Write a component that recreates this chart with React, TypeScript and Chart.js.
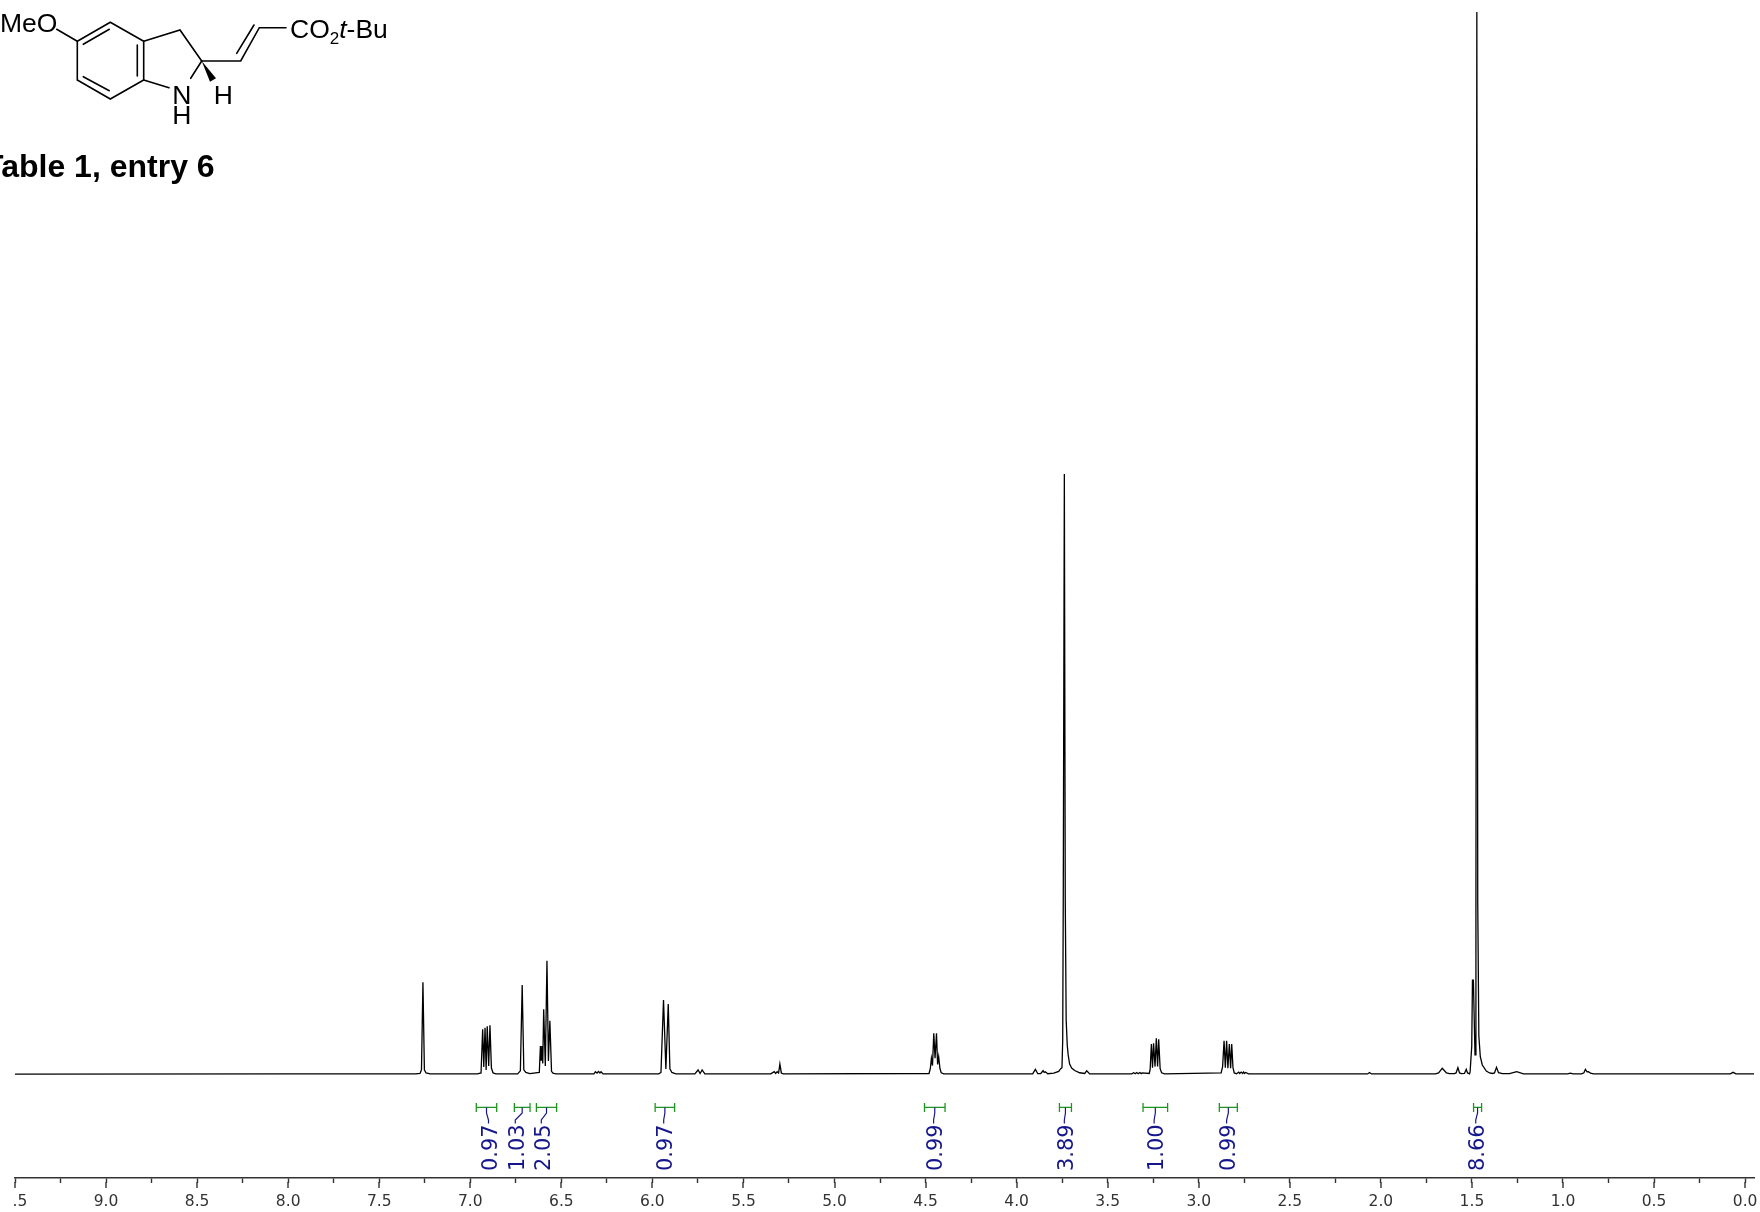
import React, { useEffect, useRef } from "react";
import { Chart, registerables } from "chart.js";

Chart.register(...registerables);

type P = [number, number];

// Spectrum as [ppm, intensity (% of the tallest peak)]
const baselineStart: P[] = [[9.5, 0], [8.0, 0.01], [7.6, 0.01], [7.3, 0.01]];
const chloroform: P[] = [[7.276, 0.05], [7.268, 0.4], [7.26, 8.63], [7.252, 0.4], [7.243, 0.1], [7.22, 0.02], [6.96, 0.02]];
const dd690: P[] = [[6.941, 0.1], [6.932, 4.21], [6.926, 0.66], [6.919, 4.36], [6.913, 0.38], [6.907, 4.49], [6.899, 0.75], [6.892, 4.59], [6.884, 0.56], [6.875, 0.1], [6.859, 0.02]];
const s672: P[] = [[6.74, 0.02], [6.725, 0.3], [6.715, 8.38], [6.706, 0.4], [6.695, 0.15], [6.673, 0.03]];
const m660: P[] = [[6.621, 0.15], [6.615, 2.64], [6.611, 1.3], [6.607, 2.64], [6.602, 1.0], [6.597, 6.09], [6.588, 0.75], [6.579, 10.67], [6.571, 1.22], [6.563, 5.02], [6.554, 0.25], [6.546, 0.08], [6.53, 0.02]];
const small630: P[] = [[6.321, 0.01], [6.313, 0.22], [6.304, 0.08], [6.296, 0.25], [6.288, 0.1], [6.282, 0.22], [6.271, 0.01]];
const d592: P[] = [[5.965, 0.02], [5.953, 0.15], [5.939, 6.97], [5.926, 0.47], [5.913, 6.59], [5.904, 0.5], [5.893, 0.15], [5.871, 0.02]];
const small573: P[] = [[5.767, 0.01], [5.749, 0.38], [5.738, 0.05], [5.727, 0.38], [5.712, 0.01]];
const small531: P[] = [[5.35, 0.01], [5.331, 0.22], [5.323, 0.05], [5.315, 0.22], [5.307, 0.1], [5.3, 0.94], [5.292, 0.1], [5.281, 0.01]];
const m444: P[] = [[4.481, 0.05], [4.474, 0.5], [4.468, 1.48], [4.462, 0.8], [4.455, 3.83], [4.448, 1.5], [4.44, 3.83], [4.434, 0.9], [4.428, 1.63], [4.421, 0.5], [4.414, 0.12], [4.4, 0.02]];
const small388: P[] = [[3.912, 0.01], [3.897, 0.44], [3.884, 0.03], [3.868, 0.03], [3.855, 0.31], [3.849, 0.15], [3.843, 0.22], [3.829, 0.03], [3.796, 0.08], [3.769, 0.25]];
const methoxy: P[] = [[3.758, 0.5], [3.751, 0.6], [3.747, 3.2], [3.744, 16.4], [3.738, 56.5], [3.733, 16.4], [3.728, 5.1], [3.722, 2.7], [3.717, 1.8], [3.709, 0.94], [3.698, 0.56], [3.681, 0.33], [3.654, 0.12], [3.626, 0.05], [3.615, 0.31], [3.599, 0.01]];
const small333: P[] = [[3.368, 0.01], [3.357, 0.12], [3.349, 0.03], [3.341, 0.14], [3.333, 0.03], [3.324, 0.14], [3.316, 0.04], [3.311, 0.1]];
const m324: P[] = [[3.272, 0.05], [3.267, 0.4], [3.26, 2.82], [3.254, 0.6], [3.248, 2.89], [3.24, 0.7], [3.233, 3.36], [3.226, 0.7], [3.22, 3.27], [3.212, 0.5], [3.204, 0.12], [3.187, 0.02]];
const m283: P[] = [[2.877, 0.1], [2.869, 0.7], [2.861, 3.14], [2.854, 0.6], [2.847, 3.14], [2.84, 0.55], [2.832, 2.82], [2.825, 0.55], [2.819, 2.82], [2.812, 0.6], [2.805, 0.1], [2.792, 0.02]];
const small276: P[] = [[2.781, 0.18], [2.775, 0.05], [2.767, 0.18], [2.759, 0.05], [2.754, 0.2], [2.748, 0.05], [2.743, 0.15], [2.726, 0.01]];
const small205: P[] = [[2.073, 0.01], [2.062, 0.15], [2.051, 0.01]];
const water: P[] = [[1.7, 0.02], [1.683, 0.1], [1.672, 0.35], [1.663, 0.54], [1.653, 0.35], [1.64, 0.1], [1.623, 0.03], [1.596, 0.03], [1.587, 0.1], [1.577, 0.6], [1.568, 0.1], [1.557, 0.03], [1.541, 0.05], [1.531, 0.44], [1.524, 0.1], [1.513, 0.02]];
const tertButyl: P[] = [[1.51, 0.2], [1.501, 2.6], [1.497, 8.85], [1.492, 8.85], [1.483, 1.8], [1.478, 16], [1.473, 100], [1.468, 16], [1.462, 3.6], [1.454, 1.63], [1.443, 0.85], [1.421, 0.28], [1.403, 0.1], [1.387, 0.05]];
const small137: P[] = [[1.376, 0.1], [1.365, 0.63], [1.354, 0.12], [1.332, 0.03], [1.294, 0.03], [1.254, 0.22], [1.217, 0.02]];
const small088: P[] = [[0.975, 0.01], [0.959, 0.08], [0.945, 0.01], [0.898, 0.02], [0.885, 0.12], [0.877, 0.44], [0.868, 0.2], [0.86, 0.22], [0.849, 0.08], [0.833, 0.01]];
const baselineEnd: P[] = [[0.081, 0.02], [0.066, 0.16], [0.05, 0.02], [-0.05, 0.01]];

const spectrum: P[] = [
  ...baselineStart, ...chloroform, ...dd690, ...s672, ...m660, ...small630, ...d592,
  ...small573, ...small531, ...m444, ...small388, ...methoxy, ...small333, ...m324,
  ...m283, ...small276, ...small205, ...water, ...tertButyl, ...small137, ...small088, ...baselineEnd,
];

// Integrals
const integralValues = ["0.97", "1.03", "2.05", "0.97", "0.99", "3.89", "1.00", "0.99", "8.66"];
const integralFrom = [6.967, 6.758, 6.637, 5.985, 4.506, 3.765, 3.306, 2.887, 1.491];
const integralTo = [6.855, 6.672, 6.526, 5.878, 4.393, 3.699, 3.171, 2.788, 1.447];
const integralLabelAt = [6.9, 6.753, 6.61, 5.938, 4.456, 3.738, 3.245, 2.847, 1.479];

// Axis
const tickValues = [9.5, 9.25, 9, 8.75, 8.5, 8.25, 8, 7.75, 7.5, 7.25, 7, 6.75, 6.5, 6.25, 6, 5.75, 5.5, 5.25, 5, 4.75, 4.5, 4.25, 4, 3.75, 3.5, 3.25, 3, 2.75, 2.5, 2.25, 2, 1.75, 1.5, 1.25, 1, 0.75, 0.5, 0.25, 0];
const clippedLabels: Record<string, string> = { "9.5": "\u2007.5" };

const INK = "#333333";
const GREEN = "#1e961e";
const NAVY = "#16168c";
const Y_BRACKET = -3.14;
const Y_KINK_A = -3.67;
const Y_KINK_B = -4.33;
const Y_LABEL = -4.75;

const structurePlugin = {
  id: "structure",
  afterDraw(chart: any) {
    const ctx = chart.ctx;
    const sx = chart.scales.x;
    const sy = chart.scales.y;
    ctx.save();

    // longer ticks at the labelled positions
    ctx.strokeStyle = INK;
    ctx.lineWidth = 1.4;
    for (const t of sx.ticks) {
      if (!t.major) continue;
      const px = Math.round(sx.getPixelForValue(t.value));
      ctx.beginPath();
      ctx.moveTo(px, sx.top + 4);
      ctx.lineTo(px, sx.top + 10);
      ctx.stroke();
    }

    // integral values
    ctx.fillStyle = NAVY;
    ctx.font = '22px "DejaVu Sans"';
    ctx.textAlign = "right";
    ctx.textBaseline = "middle";
    integralValues.forEach((v, i) => {
      ctx.save();
      ctx.translate(sx.getPixelForValue(integralLabelAt[i]), sy.getPixelForValue(Y_LABEL));
      ctx.rotate(-Math.PI / 2);
      ctx.scale(0.95, 1);
      ctx.fillText(v, 0, 3);
      ctx.restore();
    });

    // structure drawing
    ctx.strokeStyle = "#000";
    ctx.lineWidth = 1.6;
    ctx.lineCap = "round";
    const paths: number[][] = [
      [56.7, 29.3, 77.3, 41.3],
      [110.3, 22.3, 77.3, 41.3, 77.3, 80, 110.3, 99, 143.7, 80, 143.7, 41.3, 110.3, 22.3],
      [83.3, 44.3, 109.3, 29.3],
      [83.3, 76.7, 109.3, 90.7],
      [137.3, 45, 137.3, 76],
      [143.7, 41.3, 180, 30, 201.7, 61],
      [143.7, 80, 169, 87.7],
      [201.7, 61, 190.7, 78.3],
      [201.7, 61, 240.7, 61, 259.3, 27.7, 286, 27.7],
      [236.7, 53.3, 254, 25],
    ];
    for (const p of paths) {
      ctx.beginPath();
      ctx.moveTo(p[0], p[1]);
      for (let i = 2; i < p.length; i += 2) ctx.lineTo(p[i], p[i + 1]);
      ctx.stroke();
    }
    ctx.fillStyle = "#000";
    ctx.beginPath();
    ctx.moveTo(201.7, 61);
    ctx.lineTo(216, 78.3);
    ctx.lineTo(210, 81.7);
    ctx.closePath();
    ctx.fill();

    ctx.textBaseline = "alphabetic";
    ctx.textAlign = "left";
    const main = '26.5px "Liberation Sans"';
    ctx.font = main;
    ctx.fillText("MeO", 0, 31.7);
    ctx.textAlign = "center";
    ctx.fillText("N", 181.7, 103.5);
    ctx.fillText("H", 181.7, 123.5);
    ctx.fillText("H", 223.3, 103.5);
    ctx.textAlign = "left";
    let x = 290;
    ctx.fillText("CO", x, 37.7);
    x += ctx.measureText("CO").width;
    ctx.font = '17px "Liberation Sans"';
    ctx.fillText("2", x, 43.5);
    x += ctx.measureText("2").width;
    ctx.font = 'italic 26.5px "Liberation Sans"';
    ctx.fillText("t", x, 37.7);
    x += ctx.measureText("t").width;
    ctx.font = main;
    ctx.fillText("-Bu", x, 37.7);

    ctx.font = 'bold 32px "Liberation Sans"';
    ctx.fillText("Table 1, entry 6", -16, 176.7);
    ctx.restore();
  },
};

export default function App() {
  const ref = useRef<HTMLCanvasElement>(null);

  useEffect(() => {
    document.body.style.margin = "0";
    const brackets = integralValues.map((_, i) => ({
      data: [
        { x: integralFrom[i], y: Y_BRACKET },
        { x: integralTo[i], y: Y_BRACKET },
      ],
      borderColor: GREEN,
      borderWidth: 1.3,
      pointStyle: "line",
      pointRotation: 90,
      pointRadius: 4.5,
      pointBorderColor: GREEN,
      pointBorderWidth: 1.3,
    }));
    const connectors = integralValues.map((_, i) => {
      const mid = (integralFrom[i] + integralTo[i]) / 2;
      return {
        data: [
          { x: mid, y: Y_BRACKET },
          { x: mid, y: Y_KINK_A },
          { x: integralLabelAt[i], y: Y_KINK_B },
          { x: integralLabelAt[i], y: Y_LABEL + 0.1 },
        ],
        borderColor: NAVY,
        borderWidth: 1.2,
        pointRadius: 0,
      };
    });
    const chart = new Chart(ref.current as HTMLCanvasElement, {
      type: "line",
      data: {
        datasets: [
          {
            data: spectrum.map(([x, y]) => ({ x, y })),
            borderColor: "#000",
            borderWidth: 1.3,
            pointRadius: 0,
            tension: 0,
          },
          ...connectors,
          ...brackets,
        ] as any,
      },
      options: {
        animation: false,
        responsive: false,
        devicePixelRatio: 1,
        parsing: false,
        layout: { padding: { left: 15, right: 5, top: 12, bottom: 0 } },
        plugins: { legend: { display: false }, tooltip: { enabled: false }, title: { display: false } },
        events: [],
        scales: {
          x: {
            type: "linear",
            reverse: true,
            min: -0.05,
            max: 9.5,
            afterBuildTicks(scale: any) {
              scale.ticks = tickValues.map((value) => ({ value, major: Number.isInteger(value * 2) }));
            },
            afterFit(scale: any) {
              scale.height = 34;
              scale.paddingLeft = 0;
              scale.paddingRight = 0;
            },
            grid: { display: true, drawTicks: true, tickLength: 5, tickColor: INK, tickWidth: 1.4, drawOnChartArea: false },
            border: { display: true, color: INK, width: 1.4 },
            ticks: {
              autoSkip: false,
              maxRotation: 0,
              minRotation: 0,
              padding: 10,
              color: INK,
              font: { family: '"DejaVu Sans"', size: 15.5 },
              callback(value: any) {
                const v = Number(value);
                if (!Number.isInteger(v * 2)) return "";
                const s = v.toFixed(1);
                return clippedLabels[s] ?? s;
              },
            },
          } as any,
          y: { type: "linear", display: false, min: -9.79, max: 100 },
        },
      },
      plugins: [structurePlugin],
    } as any);
    return () => chart.destroy();
  }, []);

  return (
    <div style={{ position: "absolute", left: 0, top: 0, width: 1760, height: 1212, background: "#fff" }}>
      <canvas ref={ref} width={1760} height={1212} style={{ display: "block" }} />
    </div>
  );
}
